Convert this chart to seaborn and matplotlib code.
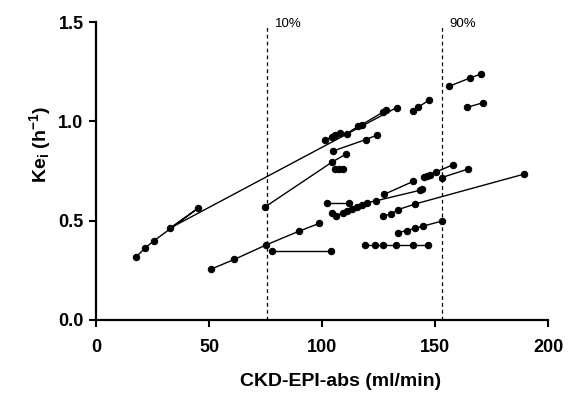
import matplotlib
matplotlib.use("Agg")
import matplotlib.pyplot as plt
import seaborn as sns
import pandas as pd

# ---- data ----
p1_x = [17.7, 21.7, 25.8, 45.2, 32.7, 133.0]
p1_y = [0.317, 0.362, 0.400, 0.563, 0.462, 1.069]
p2_x = [101.3, 104.3, 105.8, 108.0, 110.9, 116.1, 117.6, 127.1, 128.2]
p2_y = [0.905, 0.921, 0.930, 0.941, 0.938, 0.976, 0.983, 1.047, 1.055]
p3_x = [105.0, 119.3, 124.2]
p3_y = [0.851, 0.908, 0.930]
p4_x = [74.8, 104.6, 110.5]
p4_y = [0.569, 0.796, 0.834]
p5_x = [105.8, 107.7, 109.4]
p5_y = [0.759, 0.759, 0.759]
p6_x = [102.0, 112.1]
p6_y = [0.590, 0.590]
p7_x = [104.3, 106.0, 109.4, 111.0, 113.1, 115.3, 117.6, 119.8, 123.9, 143.4, 144.1]
p7_y = [0.539, 0.524, 0.541, 0.549, 0.558, 0.569, 0.581, 0.590, 0.600, 0.653, 0.658]
p8_x = [127.6, 140.4]
p8_y = [0.633, 0.698]
p9_x = [126.8, 130.4, 133.8, 141.2, 189.3]
p9_y = [0.523, 0.533, 0.556, 0.584, 0.734]
p10_x = [133.8, 137.4, 141.2, 144.6, 153.0]
p10_y = [0.440, 0.450, 0.461, 0.472, 0.498]
p11_x = [145.1, 146.3, 147.8, 150.4, 158.1]
p11_y = [0.720, 0.727, 0.732, 0.745, 0.782]
p12_x = [153.0, 164.4]
p12_y = [0.717, 0.759]
p13_x = [119.0, 123.5, 127.1, 132.7, 140.4, 147.0]
p13_y = [0.380, 0.380, 0.380, 0.380, 0.380, 0.380]
p14_x = [77.7, 104.0]
p14_y = [0.348, 0.348]
p15_x = [50.7, 61.2, 75.1, 89.8, 98.7]
p15_y = [0.255, 0.305, 0.377, 0.447, 0.486]
p16_x = [156.3, 165.5, 170.2]
p16_y = [1.177, 1.218, 1.238]
p17_x = [164.0, 171.4]
p17_y = [1.070, 1.094]
p18_x = [140.1, 142.6, 147.3]
p18_y = [1.052, 1.072, 1.106]

percentile_x = [75.8, 153.0]
percentile_labels = ["10%", "90%"]
x_ticks = [0, 50, 100, 150, 200]
y_ticks = [0.0, 0.5, 1.0, 1.5]

series = [(p1_x, p1_y), (p2_x, p2_y), (p3_x, p3_y), (p4_x, p4_y), (p5_x, p5_y),
          (p6_x, p6_y), (p7_x, p7_y), (p8_x, p8_y), (p9_x, p9_y), (p10_x, p10_y),
          (p11_x, p11_y), (p12_x, p12_y), (p13_x, p13_y), (p14_x, p14_y),
          (p15_x, p15_y), (p16_x, p16_y), (p17_x, p17_y), (p18_x, p18_y)]

rows = []
for pid, (xs, ys) in enumerate(series):
    for k, (xv, yv) in enumerate(zip(xs, ys)):
        rows.append({"patient": pid, "order": k, "x": xv, "y": yv})
df = pd.DataFrame(rows)

sns.set_style("ticks")
plt.rcParams["font.family"] = ["Liberation Sans", "DejaVu Sans"]
plt.rcParams["mathtext.default"] = "regular"
for key in ["text.color", "axes.labelcolor", "xtick.color", "ytick.color", "axes.edgecolor"]:
    plt.rcParams[key] = "black"

fig = plt.figure(figsize=(5.69, 3.99), dpi=100)
ax = fig.add_axes([96 / 569, 79 / 399, 452 / 569, 298 / 399])

sns.lineplot(data=df, x="x", y="y", units="patient", estimator=None, sort=False,
             color="black", linewidth=1.0, marker="o", markersize=4.6,
             markeredgecolor="black", markerfacecolor="black", ax=ax, legend=False)

for xv, lab in zip(percentile_x, percentile_labels):
    ax.axvline(xv, ymin=0, ymax=0.985, color="black", linestyle=(0, (3, 2.5)), linewidth=0.9)
    ax.text(xv + 3.5, 1.49, lab, fontsize=9.5, va="center", ha="left")

ax.set_xlim(0, 200)
ax.set_ylim(0, 1.5)
ax.set_xticks(x_ticks)
ax.set_yticks(y_ticks)
ax.set_xticklabels([str(t) for t in x_ticks], fontweight="bold", fontsize=13)
ax.set_yticklabels([f"{t:.1f}" for t in y_ticks], fontweight="bold", fontsize=13)
ax.set_xlabel("CKD-EPI-abs (ml/min)", fontweight="bold", fontsize=14)
ax.set_ylabel("Ke$_{i}$ (h$^{-1}$)", fontweight="bold", fontsize=14)
ax.xaxis.set_label_coords(0.54, -0.178)
ax.yaxis.set_label_coords(-0.095, 0.59)

for s in ["top", "right"]:
    ax.spines[s].set_visible(False)
for s in ["left", "bottom"]:
    ax.spines[s].set_linewidth(1.6)
    ax.spines[s].set_color("black")
ax.tick_params(axis="both", width=1.5, length=5, color="black")
ax.tick_params(axis="x", pad=9)
ax.tick_params(axis="y", pad=4)

fig.savefig("out.png", dpi=100)
